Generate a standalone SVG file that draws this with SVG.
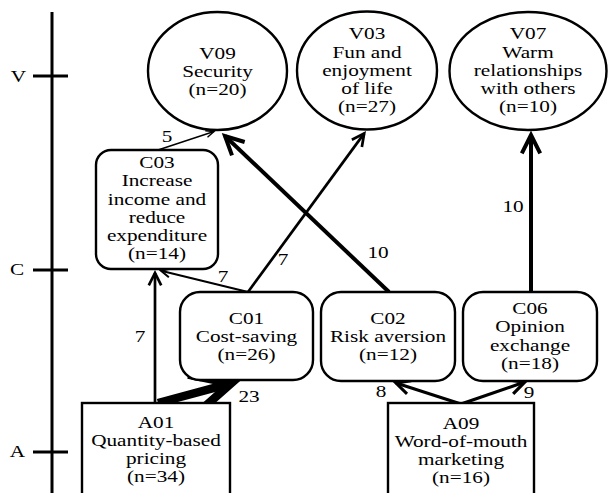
<svg xmlns="http://www.w3.org/2000/svg" width="608" height="493" viewBox="0 0 608 493">
<style>
.t{font-size:16.6px;text-anchor:middle;fill:#000}
.nd{fill:#fff;stroke:#000;stroke-width:2.4}
.ax{stroke:#000;stroke-width:3;fill:none}
.e{stroke:#000;fill:none;stroke-linecap:butt}
</style>
<defs>
<marker id="ah" markerUnits="strokeWidth" markerWidth="8" markerHeight="8" viewBox="-6 -4 8 8" refX="0" refY="0" orient="auto" overflow="visible">
<path d="M-4.6,-2.3 L0,0 L-4.6,2.3" fill="none" stroke="#000" stroke-width="1" stroke-linejoin="miter" stroke-miterlimit="10"/>
</marker>
<marker id="ahs" markerUnits="userSpaceOnUse" markerWidth="20" markerHeight="20" viewBox="-10 -10 20 20" refX="0" refY="0" orient="auto" overflow="visible">
<path d="M-8,-3.5 L0,0 L-8,3.5" fill="none" stroke="#000" stroke-width="1.4"/>
</marker>
</defs>
<g font-family="Liberation Serif, DejaVu Serif, serif">
<g id="axis">
<line class="ax" x1="52" y1="12" x2="52" y2="495"/>
<line class="ax" x1="33" y1="76" x2="68" y2="76"/>
<line class="ax" x1="33" y1="270" x2="68" y2="270"/>
<line class="ax" x1="33" y1="452" x2="68" y2="452"/>
<text class="t" transform="translate(18.5,0) scale(1.28,1)" y="82">V</text>
<text class="t" transform="translate(17,0) scale(1.28,1)" y="275.5">C</text>
<text class="t" transform="translate(17.5,0) scale(1.28,1)" y="457.5">A</text>
</g>
<g id="connectors">
<line class="e" x1="158" y1="150" x2="214" y2="131.5" stroke-width="1.4" marker-end="url(#ahs)"/>
<line class="e" x1="389" y1="292" x2="225" y2="136" stroke-width="4" marker-end="url(#ah)"/>
<line class="e" x1="248" y1="292" x2="364.2" y2="133.4" stroke-width="2.7" marker-end="url(#ah)"/>
<line class="e" x1="248" y1="292" x2="161" y2="270.7" stroke-width="2" marker-end="url(#ah)"/>
<line class="e" x1="155" y1="403" x2="155" y2="273" stroke-width="2.7" marker-end="url(#ah)"/>
<line class="e" x1="158" y1="403" x2="231" y2="383.4" stroke-width="8.5" marker-end="url(#ah)"/>
<line class="e" x1="531" y1="292" x2="531" y2="135" stroke-width="4" marker-end="url(#ah)"/>
<line class="e" x1="461" y1="404" x2="396" y2="383" stroke-width="3" marker-end="url(#ah)"/>
<line class="e" x1="461" y1="404" x2="524.7" y2="382.1" stroke-width="3.2" marker-end="url(#ah)"/>
<text class="t" transform="translate(167,0) scale(1.28,1)" y="142">5</text>
<text class="t" transform="translate(378,0) scale(1.28,1)" y="258">10</text>
<text class="t" transform="translate(283,0) scale(1.28,1)" y="265">7</text>
<text class="t" transform="translate(223,0) scale(1.28,1)" y="282">7</text>
<text class="t" transform="translate(140,0) scale(1.28,1)" y="342">7</text>
<text class="t" transform="translate(249,0) scale(1.28,1)" y="402">23</text>
<text class="t" transform="translate(513,0) scale(1.28,1)" y="212">10</text>
<text class="t" transform="translate(381,0) scale(1.28,1)" y="397">8</text>
<text class="t" transform="translate(529,0) scale(1.28,1)" y="398">9</text>
</g>
<g id="V09">
<ellipse class="nd" cx="217.5" cy="71" rx="69.5" ry="59"/>
<text class="t" transform="translate(217.5,0) scale(1.28,1)"><tspan x="0" y="59">V09</tspan><tspan x="0" y="77">Security</tspan><tspan x="0" y="95">(n=20)</tspan></text>
</g>
<g id="V03">
<ellipse class="nd" cx="367" cy="70.5" rx="70" ry="59"/>
<text class="t" transform="translate(367,0) scale(1.28,1)"><tspan x="0" y="39.5">V03</tspan><tspan x="0" y="57.7">Fun and</tspan><tspan x="0" y="75.9">enjoyment</tspan><tspan x="0" y="94.1">of life</tspan><tspan x="0" y="112.3">(n=27)</tspan></text>
</g>
<g id="V07">
<ellipse class="nd" cx="528" cy="71" rx="78.5" ry="59"/>
<text class="t" transform="translate(528,0) scale(1.28,1)"><tspan x="0" y="39.5">V07</tspan><tspan x="0" y="57.7">Warm</tspan><tspan x="0" y="75.9">relationships</tspan><tspan x="0" y="94.1">with others</tspan><tspan x="0" y="112.3">(n=10)</tspan></text>
</g>
<g id="C03">
<rect class="nd" x="96" y="150" width="122" height="119" rx="15"/>
<text class="t" transform="translate(157,0) scale(1.28,1)"><tspan x="0" y="168">C03</tspan><tspan x="0" y="186.3">Increase</tspan><tspan x="0" y="204.6">income and</tspan><tspan x="0" y="222.9">reduce</tspan><tspan x="0" y="241.2">expenditure</tspan><tspan x="0" y="259.5">(n=14)</tspan></text>
</g>
<g id="C01">
<rect class="nd" x="180" y="292" width="133" height="88" rx="20"/>
<text class="t" transform="translate(246.5,0) scale(1.28,1)"><tspan x="0" y="324">C01</tspan><tspan x="0" y="342">Cost-saving</tspan><tspan x="0" y="360">(n=26)</tspan></text>
</g>
<g id="C02">
<rect class="nd" x="321" y="292" width="134" height="89" rx="20"/>
<text class="t" transform="translate(388,0) scale(1.28,1)"><tspan x="0" y="324">C02</tspan><tspan x="0" y="342">Risk aversion</tspan><tspan x="0" y="360">(n=12)</tspan></text>
</g>
<g id="C06">
<rect class="nd" x="463" y="292" width="134" height="89" rx="20"/>
<text class="t" transform="translate(530,0) scale(1.28,1)"><tspan x="0" y="314">C06</tspan><tspan x="0" y="332.3">Opinion</tspan><tspan x="0" y="350.6">exchange</tspan><tspan x="0" y="368.9">(n=18)</tspan></text>
</g>
<g id="A01">
<rect class="nd" x="82" y="403" width="148" height="100"/>
<text class="t" transform="translate(156,0) scale(1.28,1)"><tspan x="0" y="428">A01</tspan><tspan x="0" y="446">Quantity-based</tspan><tspan x="0" y="464">pricing</tspan><tspan x="0" y="482">(n=34)</tspan></text>
</g>
<g id="A09">
<rect class="nd" x="388" y="403" width="146" height="100"/>
<text class="t" transform="translate(461,0) scale(1.28,1)"><tspan x="0" y="429">A09</tspan><tspan x="0" y="447">Word-of-mouth</tspan><tspan x="0" y="465">marketing</tspan><tspan x="0" y="483">(n=16)</tspan></text>
</g>
</g>
</svg>
